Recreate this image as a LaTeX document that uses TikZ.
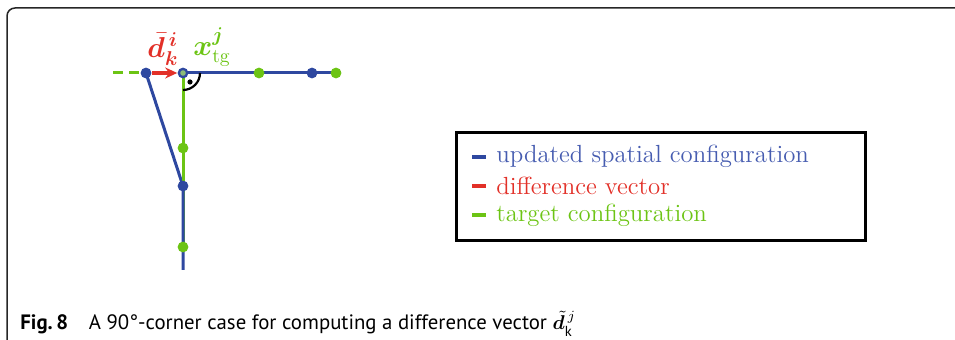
\documentclass[tikz,border=0pt]{standalone}
\usepackage{amsmath}
\usepackage{bm}
\usepackage{fontspec}
\setsansfont{PT Sans}
\usetikzlibrary{arrows.meta, positioning}

\definecolor{cfgblue}{RGB}{46,72,160}
\definecolor{diffred}{RGB}{226,48,40}
\definecolor{tgtgreen}{RGB}{108,196,20}
\definecolor{lblblue}{RGB}{70,92,176}

\tikzset{
  bdot/.style={circle, fill=cfgblue, inner sep=0pt, minimum size=5.4pt},
  gdot/.style={circle, fill=tgtgreen, inner sep=0pt, minimum size=5.4pt},
  cfgline/.style={cfgblue, line width=1.5pt},
  tgtline/.style={tgtgreen, line width=1.5pt},
  legendtext/.style={anchor=west, inner sep=0pt, font=\fontsize{12.4}{15}\selectfont},
}

\begin{document}
\begin{tikzpicture}[x=0.5pt, y=-0.5pt]
        \useasboundingbox (0,0) rectangle (955,340);
        % frame
        \draw [black!85, line width=0.75pt] (7,340) -- (7,16) arc (180:270:8) -- (955,8);
        % points
        \coordinate (a0) at (113,73);
        \coordinate (a1) at (146,73);
        \coordinate (a2) at (183,73);
        \coordinate (a3) at (312,73);
        \coordinate (a4) at (341,73);
        \coordinate (b1) at (183,186);
        \coordinate (b2) at (183,270);
        \coordinate (t1) at (259,73);
        \coordinate (t2) at (336,73);
        \coordinate (t3) at (183,148);
        \coordinate (t4) at (183,247);
        % target configuration
        \draw [tgtline, dash pattern=on 4.8pt off 3.4pt] (a0) -- (a1);
        \draw [tgtline] (a2) -- (t4);
        % updated configuration
        \draw [cfgline] (a2) -- (a4);
        \draw [cfgline] (a1) -- (b1) -- (b2);
        \draw [tgtline] (t3) -- (b1);
        % right angle
        \draw [black, line width=1.1pt] (200,73) arc (0:90:17);
        \fill [black] (190,82) circle (2.6);
        % dots
        \node [bdot] (p1) at (a1) {};
        \node [bdot] (p2) at (a2) {};
        \node [circle, fill=tgtgreen!70!cfgblue!70, inner sep=0pt, minimum size=2.8pt] at (a2) {};
        \node [bdot] (p3) at (a3) {};
        \node [bdot] (p4) at (b1) {};
        \node [gdot] (q1) at (t1) {};
        \node [gdot] (q2) at (t2) {};
        \node [gdot] (q3) at (t3) {};
        \node [gdot] (q4) at (t4) {};
        % difference vector
        \draw [diffred, line width=1.6pt, -{Stealth[length=6pt, width=5.5pt]}] (p1) -- (p2);
        \node [diffred, font=\fontsize{14.5}{16}\selectfont] (dlab) at (163,49) {$\boldsymbol{\bar{d}_k^{\,i}}$};
        \node [tgtgreen, font=\fontsize{14}{16}\selectfont] (xlab) at (212,47) {$\boldsymbol{x}^{\boldsymbol{j}}_{\mathrm{tg}}$};
        % legend
        \draw [black, line width=1.5pt] (456,133) rectangle (865,241);
        \draw [cfgblue, line width=2.2pt] (472,157) -- (486,157);
        \draw [diffred, line width=2.2pt] (472,186) -- (486,186);
        \draw [tgtgreen, line width=2.2pt] (472,215) -- (486,215);
        \node [legendtext, lblblue] (l1) at (496,156) {updated spatial configuration};
        \node [legendtext, diffred] (l2) at (496,186) {difference vector};
        \node [legendtext, tgtgreen] (l3) at (496,215) {target configuration};
        % caption
        \node [anchor=base west, inner sep=0pt, font=\sffamily\fontsize{10.4}{12}\selectfont] (cap) at (20,330)
          {\textbf{Fig.\,8}\quad A 90°-corner case for computing a difference vector $\tilde{\bm{d}}_{\mathsf{k}}^{\,j}$};
\end{tikzpicture}
\end{document}
